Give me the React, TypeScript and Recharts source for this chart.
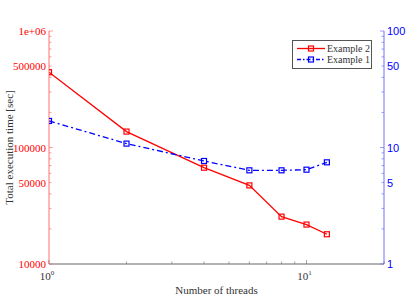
import React from "react";
import { LineChart, Line, XAxis, YAxis, Legend } from "recharts";

const threads = [1, 2, 4, 6, 8, 10, 12];
const example2 = [443000, 137000, 67100, 47300, 25500, 21800, 18000];
const example1 = [16.9, 10.8, 7.66, 6.37, 6.37, 6.45, 7.46];

const xTicks = [1, 2, 3, 4, 5, 6, 7, 8, 9, 10, 20];
const xLabels: Record<number, string> = { 1: "0", 10: "1" };
const leftTicks = [
  10000, 20000, 30000, 40000, 50000, 60000, 70000, 80000, 90000, 100000,
  200000, 300000, 400000, 500000, 600000, 700000, 800000, 900000, 1000000,
];
const leftLabels: Record<number, string> = {
  10000: "10000",
  50000: "50000",
  100000: "100000",
  500000: "500000",
  1000000: "1e+06",
};
const rightTicks = [1, 2, 3, 4, 5, 6, 7, 8, 9, 10, 20, 30, 40, 50, 60, 70, 80, 90, 100];
const rightLabels: Record<number, string> = { 1: "1", 5: "5", 10: "10", 50: "50", 100: "100" };

const data = threads.map((t, i) => ({ t, ex2: example2[i], ex1: example1[i] }));

const RED = "#ff0000";
const BLUE = "#0000ff";
const GRAY = "#666666";
const serif = "'Liberation Serif', 'DejaVu Serif', serif";
const sans = "'Liberation Sans', Arial, sans-serif";

const isMajor = (v: number) => Math.abs(Math.log10(v) - Math.round(Math.log10(v))) < 1e-9;

const BottomTick = (props: any) => {
  const { x, y, payload } = props;
  const v = payload.value;
  const len = isMajor(v) ? 4 : 2.5;
  return (
    <g>
      <line x1={x} x2={x} y1={y} y2={y - len} stroke={GRAY} strokeWidth={0.6} />
      {xLabels[v] !== undefined && (
        <text x={x - 2} y={y + 16} textAnchor="middle" fontFamily={serif} fontSize={11} fill="#333">
          10
          <tspan dy={-5} fontSize={7}>
            {xLabels[v]}
          </tspan>
        </text>
      )}
    </g>
  );
};

const TopTick = (props: any) => {
  const { x, y, payload } = props;
  const len = isMajor(payload.value) ? 4 : 2.5;
  return <line x1={x} x2={x} y1={y} y2={y + len} stroke={GRAY} strokeWidth={0.6} />;
};

const LeftTick = (props: any) => {
  const { x, y, payload } = props;
  const v = payload.value;
  const len = isMajor(v) ? 4 : 2.5;
  return (
    <g>
      <line x1={x} x2={x + len} y1={y} y2={y} stroke="#ff7070" strokeWidth={0.7} />
      {leftLabels[v] && (
        <text x={x - 3} y={y + 4} textAnchor="end" fontFamily={serif} fontSize={11} fill={RED}>
          {leftLabels[v]}
        </text>
      )}
    </g>
  );
};

const RightTick = (props: any) => {
  const { x, y, payload } = props;
  const v = payload.value;
  const len = isMajor(v) ? 4 : 2.5;
  return (
    <g>
      <line x1={x} x2={x - len} y1={y} y2={y} stroke="#7070ff" strokeWidth={0.7} />
      {rightLabels[v] && (
        <text x={x + 3} y={y + 4} textAnchor="start" fontFamily={sans} fontSize={11} fill={BLUE}>
          {rightLabels[v]}
        </text>
      )}
    </g>
  );
};

const squareDot = (color: string) => (props: any) => {
  const { cx, cy, index } = props;
  if (cx == null || cy == null) return <g key={index} />;
  return (
    <rect
      key={index}
      x={cx - 2.5}
      y={cy - 2.5}
      width={5}
      height={5}
      fill="none"
      stroke={color}
      strokeWidth={1.2}
    />
  );
};

const legendItems = [
  { name: "Example 2", color: RED, dash: undefined },
  { name: "Example 1", color: BLUE, dash: "4 2 1.5 2" },
];

const LegendBox = () => (
  <div
    style={{
      border: "1px solid #555",
      background: "#fff",
      width: 80,
      boxSizing: "border-box",
      padding: "2px 0 3px",
      fontFamily: serif,
      fontSize: 10,
      color: "#333",
      lineHeight: "11px",
      whiteSpace: "nowrap",
      textAlign: "left",
      overflow: "visible",
    }}
  >
    {legendItems.map((it) => (
      <div key={it.name} style={{ display: "flex", alignItems: "center", height: 11 }}>
        <svg width={28} height={11} style={{ marginLeft: 4, flex: "none" }}>
          <line x1={0} x2={28} y1={5.5} y2={5.5} stroke={it.color} strokeWidth={1.3} strokeDasharray={it.dash} />
          <rect x={11.5} y={3} width={5} height={5} fill="none" stroke={it.color} strokeWidth={1.2} />
        </svg>
        <span style={{ marginLeft: 2 }}>{it.name}</span>
      </div>
    ))}
  </div>
);

export default function App() {
  return (
    <div style={{ position: "absolute", left: 0, top: 0, background: "#fff" }}>
      <LineChart width={419} height={305} data={data} margin={{ top: 31, right: 0, bottom: 0, left: 0 }}>
        <XAxis
          xAxisId="bottom"
          dataKey="t"
          type="number"
          scale="log"
          domain={[1, 20]}
          ticks={xTicks}
          interval={0}
          allowDataOverflow
          height={41}
          stroke={GRAY}
          tickLine={false}
          tickSize={0}
          tickMargin={0}
          tick={<BottomTick />}
          label={{
            value: "Number of threads",
            position: "insideBottom",
            offset: 11,
            fontFamily: serif,
            fontSize: 11,
            fill: "#333",
          }}
        />
        <XAxis
          xAxisId="top"
          orientation="top"
          dataKey="t"
          type="number"
          scale="log"
          domain={[1, 20]}
          ticks={xTicks}
          interval={0}
          allowDataOverflow
          height={0}
          stroke={GRAY}
          tickLine={false}
          tickSize={0}
          tickMargin={0}
          tick={<TopTick />}
        />
        <YAxis
          yAxisId="left"
          type="number"
          scale="log"
          domain={[10000, 1000000]}
          ticks={leftTicks}
          interval={0}
          allowDataOverflow
          width={49}
          stroke="#ff7070"
          tickLine={false}
          tickSize={0}
          tickMargin={0}
          tick={<LeftTick />}
          label={{
            value: "Total execution time [sec]",
            angle: -90,
            position: "insideLeft",
            offset: 0,
            dx: 9,
            fontFamily: serif,
            fontSize: 11,
            fill: "#333",
            style: { textAnchor: "middle" },
          }}
        />
        <YAxis
          yAxisId="right"
          orientation="right"
          type="number"
          scale="log"
          domain={[1, 100]}
          ticks={rightTicks}
          interval={0}
          allowDataOverflow
          width={35}
          stroke="#7070ff"
          tickLine={false}
          tickSize={0}
          tickMargin={0}
          tick={<RightTick />}
        />
        <Legend
          layout="horizontal"
          verticalAlign="middle"
          align="center"
          wrapperStyle={{ left: 292, top: 40, width: 80 }}
          content={() => <LegendBox />}
        />
        <Line
          xAxisId="bottom"
          yAxisId="left"
          dataKey="ex2"
          name="Example 2"
          stroke={RED}
          strokeWidth={1.3}
          dot={squareDot(RED)}
          isAnimationActive={false}
        />
        <Line
          xAxisId="bottom"
          yAxisId="right"
          dataKey="ex1"
          name="Example 1"
          stroke={BLUE}
          strokeWidth={1.3}
          strokeDasharray="6 3 2 3"
          dot={squareDot(BLUE)}
          isAnimationActive={false}
        />
      </LineChart>
    </div>
  );
}
